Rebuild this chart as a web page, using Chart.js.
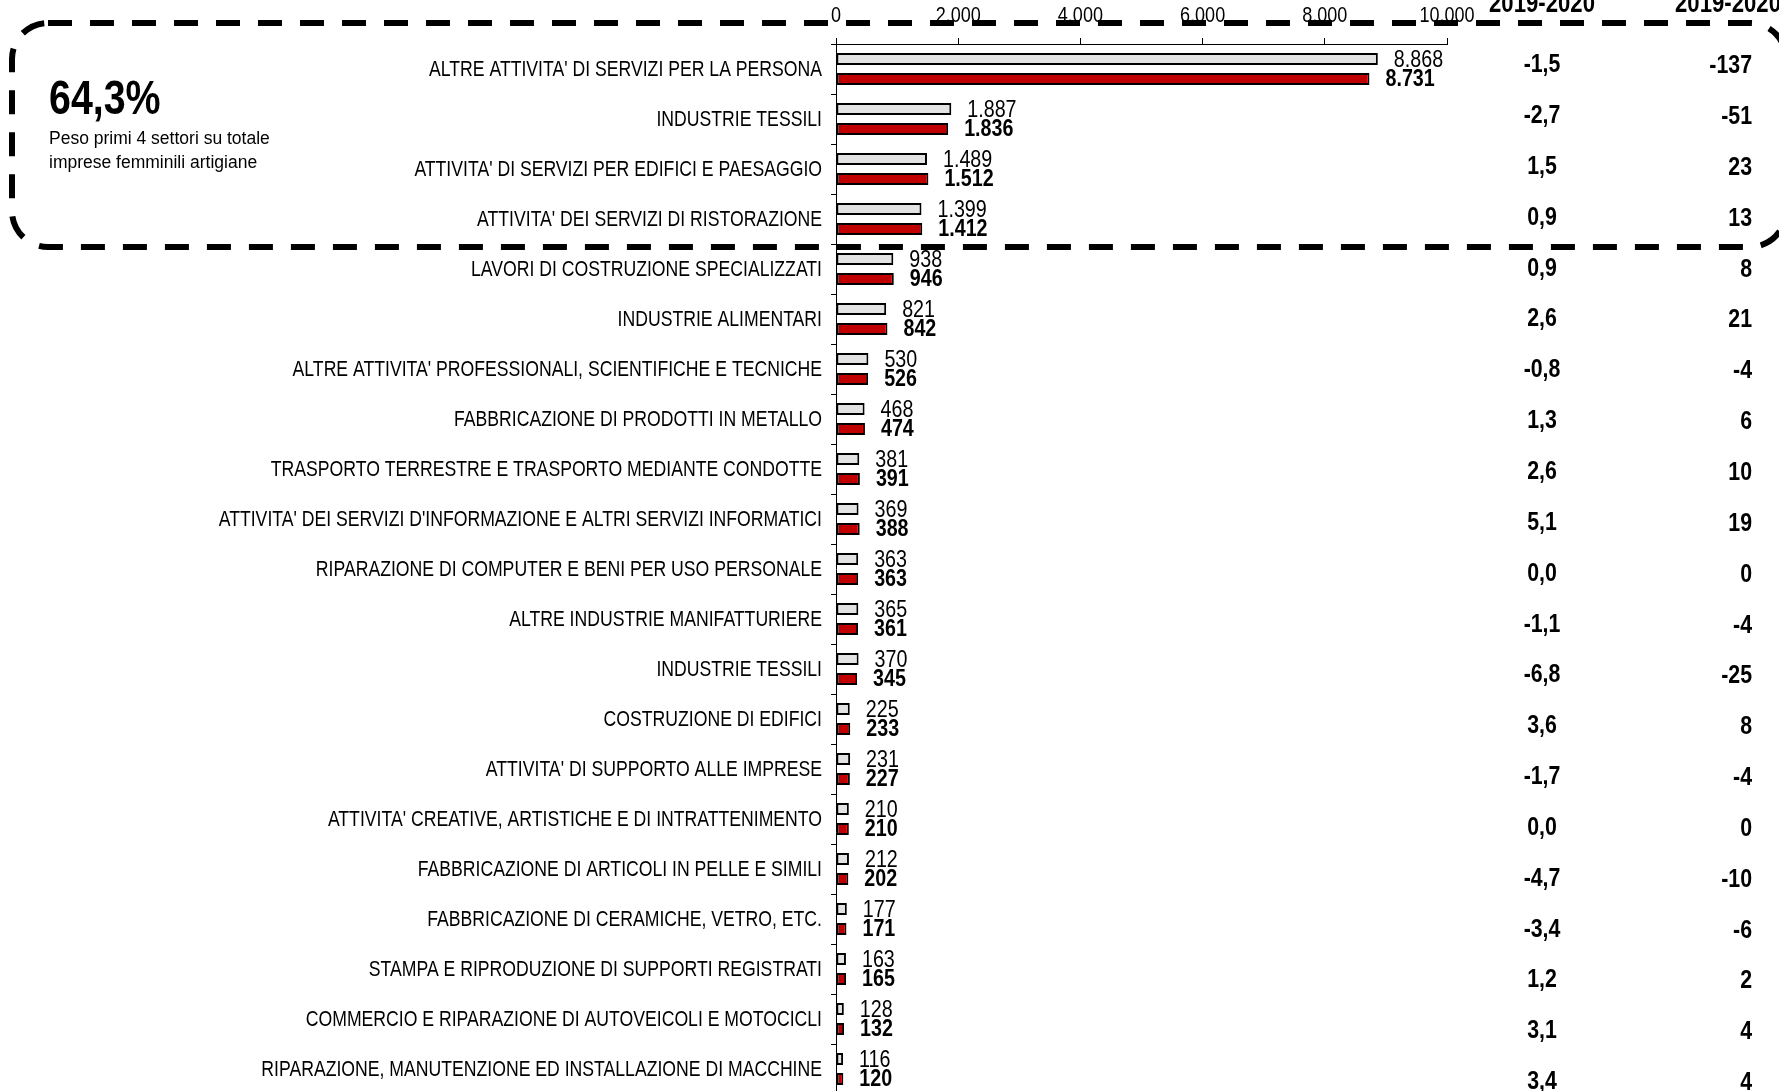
<!DOCTYPE html>
<html>
<head>
<meta charset="utf-8">
<script src="https://cdn.jsdelivr.net/npm/chart.js@4"></script>
<style>
  html, body { margin: 0; padding: 0; background: #fff; overflow: hidden; }
  canvas { display: block; }
</style>
</head>
<body>
<canvas id="chart" width="1779" height="1100"></canvas>
<script>
const sectors = [
  "ALTRE ATTIVITA' DI SERVIZI PER LA PERSONA",
  "INDUSTRIE TESSILI",
  "ATTIVITA' DI SERVIZI PER EDIFICI E PAESAGGIO",
  "ATTIVITA' DEI SERVIZI DI RISTORAZIONE",
  "LAVORI DI COSTRUZIONE SPECIALIZZATI",
  "INDUSTRIE ALIMENTARI",
  "ALTRE ATTIVITA' PROFESSIONALI, SCIENTIFICHE E TECNICHE",
  "FABBRICAZIONE DI PRODOTTI IN METALLO",
  "TRASPORTO TERRESTRE E TRASPORTO MEDIANTE CONDOTTE",
  "ATTIVITA' DEI SERVIZI D'INFORMAZIONE E ALTRI SERVIZI INFORMATICI",
  "RIPARAZIONE DI COMPUTER E BENI PER USO PERSONALE",
  "ALTRE INDUSTRIE MANIFATTURIERE",
  "INDUSTRIE TESSILI",
  "COSTRUZIONE DI EDIFICI",
  "ATTIVITA' DI SUPPORTO ALLE IMPRESE",
  "ATTIVITA' CREATIVE, ARTISTICHE E DI INTRATTENIMENTO",
  "FABBRICAZIONE DI ARTICOLI IN PELLE E SIMILI",
  "FABBRICAZIONE DI CERAMICHE, VETRO, ETC.",
  "STAMPA E RIPRODUZIONE DI SUPPORTI REGISTRATI",
  "COMMERCIO E RIPARAZIONE DI AUTOVEICOLI E MOTOCICLI",
  "RIPARAZIONE, MANUTENZIONE ED INSTALLAZIONE DI MACCHINE"
];
const imprese2019 = [8868, 1887, 1489, 1399, 938, 821, 530, 468, 381, 369, 363, 365, 370, 225, 231, 210, 212, 177, 163, 128, 116];
const imprese2020 = [8731, 1836, 1512, 1412, 946, 842, 526, 474, 391, 388, 363, 361, 345, 233, 227, 210, 202, 171, 165, 132, 120];
const varPerc = [-1.5, -2.7, 1.5, 0.9, 0.9, 2.6, -0.8, 1.3, 2.6, 5.1, 0.0, -1.1, -6.8, 3.6, -1.7, 0.0, -4.7, -3.4, 1.2, 3.1, 3.4];
const varAss = [-137, -51, 23, 13, 8, 21, -4, 6, 10, 19, 0, -4, -25, 8, -4, 0, -10, -6, 2, 4, 4];
const colHeaders = ['2019-2020', '2019-2020'];
const boxValue = '64,3%';
const boxText = ['Peso primi 4 settori su totale', 'imprese femminili artigiane'];

const SANS = "'Liberation Sans', Arial, sans-serif";

function fmtInt(v) {
  return String(v).replace(/\B(?=(\d{3})+(?!\d))/g, '.');
}
function fmtDec(v) {
  return v.toFixed(1).replace('.', ',');
}

// Arial Narrow non c'e': Liberation Sans schiacciata in orizzontale
function narrowText(ctx, text, x, y, size, bold, align, baseline, sx) {
  ctx.save();
  ctx.font = (bold ? 'bold ' : '') + size + 'px ' + SANS;
  ctx.textAlign = align;
  ctx.textBaseline = baseline;
  ctx.translate(x, y);
  ctx.scale(sx || 0.82, 1);
  ctx.fillText(text, 0, 0);
  ctx.restore();
}

// etichette degli assi
const axisLabels = {
  id: 'axisLabels',
  afterDraw(chart) {
    const ctx = chart.ctx;
    const xs = chart.scales.x;
    const ys = chart.scales.y;
    ctx.save();
    ctx.fillStyle = '#000';
    xs.ticks.forEach(t => {
      narrowText(ctx, fmtInt(t.value), xs.getPixelForValue(t.value), 22, 22, false, 'center', 'alphabetic');
    });
    chart.data.labels.forEach((lab, i) => {
      narrowText(ctx, lab, ys.left + ys.width - 14, ys.getPixelForValue(i) + 1, 21.5, false, 'right', 'middle', 0.82);
    });
    ctx.restore();
  }
};

// numeri accanto alle barre
const barLabels = {
  id: 'barLabels',
  afterDatasetsDraw(chart) {
    const ctx = chart.ctx;
    ctx.save();
    ctx.fillStyle = '#000';
    chart.data.datasets.forEach((ds, di) => {
      const meta = chart.getDatasetMeta(di);
      meta.data.forEach((bar, i) => {
        narrowText(ctx, fmtInt(ds.data[i]), bar.x + 16, bar.y + (di === 1 ? 0 : 1), 24, di === 1, 'left', 'middle');
      });
    });
    ctx.restore();
  }
};

// colonne delle variazioni, riquadro tratteggiato e testo a sinistra
const extras = {
  id: 'extras',
  afterDraw(chart) {
    const ctx = chart.ctx;
    const yScale = chart.scales.y;
    const first = yScale.getPixelForValue(0);
    const step = (yScale.getPixelForValue(sectors.length - 1) - first) / (sectors.length - 1);
    ctx.save();
    ctx.fillStyle = '#000';
    varPerc.forEach((v, i) => {
      const y = first - 4 + i * step * 1.017;
      narrowText(ctx, fmtDec(v), 1542, y, 26, true, 'center', 'middle');
      narrowText(ctx, String(varAss[i]), 1752, y + 1, 26, true, 'right', 'middle');
    });

    narrowText(ctx, colHeaders[0], 1542, 12, 27, true, 'center', 'alphabetic');
    narrowText(ctx, colHeaders[1], 1728, 12, 27, true, 'center', 'alphabetic');

    narrowText(ctx, boxValue, 49, 114, 48, true, 'left', 'alphabetic');
    ctx.font = '17.5px ' + SANS;
    ctx.textAlign = 'left';
    ctx.textBaseline = 'alphabetic';
    ctx.fillText(boxText[0], 49, 144);
    ctx.fillText(boxText[1], 49, 168);

    ctx.strokeStyle = '#000';
    ctx.lineWidth = 6;
    ctx.setLineDash([24, 18]);
    ctx.beginPath();
    ctx.roundRect(12, 23, 1774, 224, 36);
    ctx.stroke();
    ctx.restore();
  }
};

new Chart(document.getElementById('chart'), {
  type: 'bar',
  data: {
    labels: sectors,
    datasets: [
      {
        label: '2019',
        data: imprese2019,
        backgroundColor: '#e3e3e3',
        borderColor: '#000',
        borderWidth: 2,
        borderSkipped: false,
        categoryPercentage: 0.8,
        barPercentage: 0.6
      },
      {
        label: '2020',
        data: imprese2020,
        backgroundColor: '#c00000',
        borderColor: '#000',
        borderWidth: 2,
        borderSkipped: false,
        categoryPercentage: 0.8,
        barPercentage: 0.6
      }
    ]
  },
  options: {
    indexAxis: 'y',
    responsive: false,
    animation: false,
    layout: {
      padding: { left: 0, right: 332, top: 0, bottom: 6 }
    },
    plugins: {
      legend: { display: false },
      tooltip: { enabled: false }
    },
    scales: {
      x: {
        position: 'top',
        min: 0,
        max: 10000,
        afterFit(scale) { scale.height = 44; },
        ticks: { stepSize: 2000, display: false },
        grid: { drawOnChartArea: false, tickLength: 6, color: '#000' },
        border: { color: '#000', width: 1 }
      },
      y: {
        afterFit(scale) { scale.width = 836; },
        ticks: { autoSkip: false, display: false },
        grid: { drawOnChartArea: false, tickLength: 5, color: '#000', offset: true },
        border: { color: '#000', width: 1 }
      }
    }
  },
  plugins: [barLabels, axisLabels, extras]
});
</script>
</body>
</html>
